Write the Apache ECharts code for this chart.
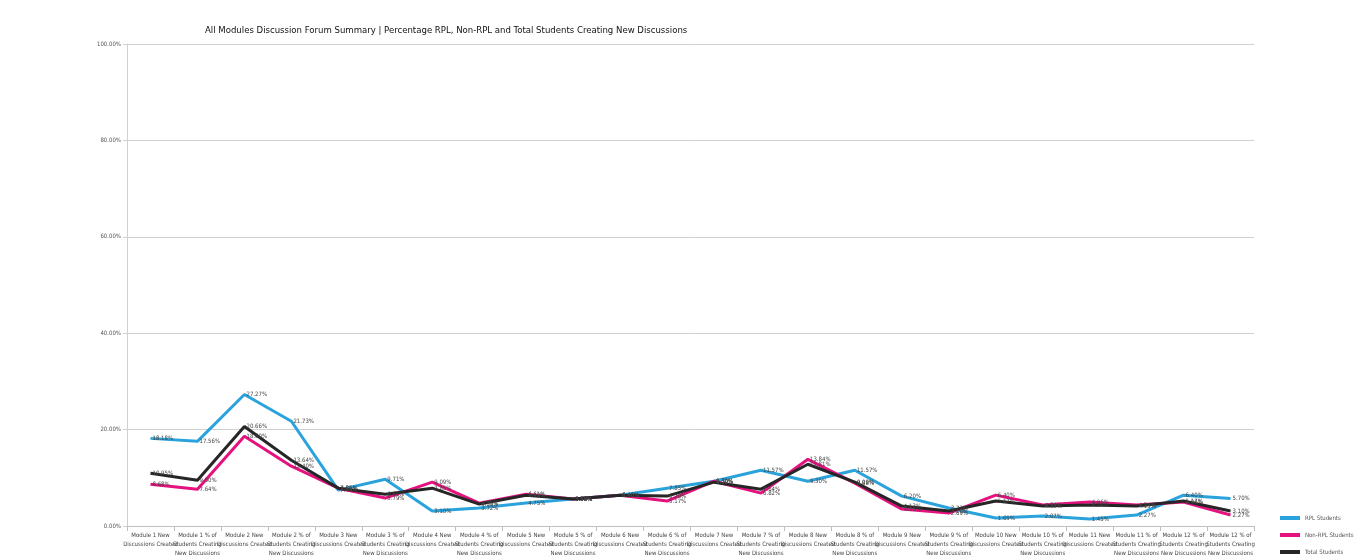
<!DOCTYPE html>
<html>
<head>
<meta charset="utf-8">
<script src="https://cdn.jsdelivr.net/npm/echarts@6/dist/echarts.min.js"></script>
<style>
  html, body { margin: 0; padding: 0; background: #fff; }
  #chart { width: 1370px; height: 558px; }
</style>
</head>
<body>
<div id="chart"></div>
<script>
// categories, module by module
var categories = [
  'Module 1 New\nDiscussions Created', 'Module 1 % of\nStudents Creating\nNew Discussions',
  'Module 2 New\nDiscussions Created', 'Module 2 % of\nStudents Creating\nNew Discussions',
  'Module 3 New\nDiscussions Created', 'Module 3 % of\nStudents Creating\nNew Discussions',
  'Module 4 New\nDiscussions Created', 'Module 4 % of\nStudents Creating\nNew Discussions',
  'Module 5 New\nDiscussions Created', 'Module 5 % of\nStudents Creating\nNew Discussions',
  'Module 6 New\nDiscussions Created', 'Module 6 % of\nStudents Creating\nNew Discussions',
  'Module 7 New\nDiscussions Created', 'Module 7 % of\nStudents Creating\nNew Discussions',
  'Module 8 New\nDiscussions Created', 'Module 8 % of\nStudents Creating\nNew Discussions',
  'Module 9 New\nDiscussions Created', 'Module 9 % of\nStudents Creating\nNew Discussions',
  'Module 10 New\nDiscussions Created', 'Module 10 % of\nStudents Creating\nNew Discussions',
  'Module 11 New\nDiscussions Created', 'Module 11 % of\nStudents Creating\nNew Discussions',
  'Module 12 % of\nStudents Creating\nNew Discussions', 'Module 12 % of\nStudents Creating\nNew Discussions'
]

var seriesNames = ['RPL Students', 'Non-RPL Students', 'Total Students']

// percentages
var rplValues = [18.18, 17.56, 27.27, 21.73, 7.44, 9.71, 3.1, 3.72, 4.75, 5.58, 6.4, 7.85,
  9.3, 11.57, 9.3, 11.57, 6.2, 3.72, 1.65, 2.07, 1.45, 2.27, 6.4, 5.7]
var nonRplValues = [8.68, 7.64, 18.6, 12.4, 7.85, 5.79, 9.09, 4.75, 6.61, 5.58, 6.4, 5.17,
  9.3, 6.82, 13.84, 8.88, 3.51, 2.69, 6.4, 4.34, 4.96, 4.34, 4.96, 2.27]
var totalValues = [10.95, 9.5, 20.66, 13.64, 7.85, 6.61, 7.85, 4.55, 6.4, 5.58, 6.4, 6.2,
  9.09, 7.64, 12.81, 9.09, 4.13, 3.1, 5.17, 4.13, 4.34, 4.13, 5.17, 3.1]

var colors = ['#2aa3dc', '#e4117f', '#262626']
var font = "'DejaVu Sans Condensed', 'Liberation Sans', sans-serif"

var chart = echarts.init(document.getElementById('chart'))

function makeSeries(name, data, color) {
  return {
    name: name,
    type: 'line',
    data: data,
    showSymbol: true,
    symbol: 'circle',
    symbolSize: 0.1,
    lineStyle: { color: color, width: 3 },
    itemStyle: { color: color },
    label: {
      show: true,
      position: 'right',
      distance: 2,
      fontSize: 6,
      color: '#444',
      fontFamily: font,
      formatter: function(p) { return p.value.toFixed(2) + '%' }
    },
    animation: false
  }
}

chart.setOption({
  backgroundColor: '#fff',
  title: {
    text: 'All Modules Discussion Forum Summary | Percentage RPL, Non-RPL and Total Students Creating New Discussions',
    left: 200,
    top: 21,
    textStyle: {
      fontFamily: font,
      fontSize: 9.5,
      fontWeight: 'normal',
      color: '#111'
    }
  },
  legend: {
    orient: 'vertical',
    left: 1280,
    top: 515,
    padding: 0,
    itemWidth: 20,
    itemHeight: 4,
    itemGap: 11,
    icon: 'rect',
    data: seriesNames,
    textStyle: { fontSize: 6, color: '#555', fontFamily: font }
  },
  grid: {
    left: 127,
    right: 116,
    top: 44,
    bottom: 30
  },
  xAxis: {
    type: 'category',
    data: categories,
    boundaryGap: true,
    axisLine: { lineStyle: { color: '#bfbfbf' } },
    axisTick: { show: true, lineStyle: { color: '#bfbfbf' } },
    axisLabel: {
      interval: 0,
      fontSize: 6,
      lineHeight: 9,
      margin: 5,
      color: '#444',
      fontFamily: font
    }
  },
  yAxis: {
    type: 'value',
    min: 0,
    max: 100,
    interval: 20,
    axisLine: { show: true, lineStyle: { color: '#d0d0d0' } },
    axisTick: { show: true, length: 4, lineStyle: { color: '#d0d0d0' } },
    splitLine: { lineStyle: { color: '#d0d0d0' } },
    axisLabel: {
      fontSize: 6,
      color: '#555',
      margin: 6,
      fontFamily: font,
      formatter: function(v) { return v.toFixed(2) + '%' }
    }
  },
  series: [
    makeSeries(seriesNames[0], rplValues, colors[0]),
    makeSeries(seriesNames[1], nonRplValues, colors[1]),
    makeSeries(seriesNames[2], totalValues, colors[2])
  ]
})
</script>
</body>
</html>
